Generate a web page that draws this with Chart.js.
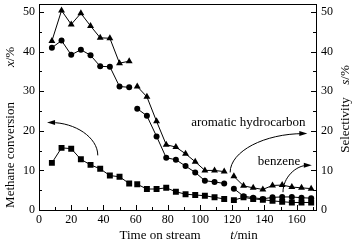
<!DOCTYPE html>
<html><head><meta charset="utf-8">
<script src="https://cdn.jsdelivr.net/npm/chart.js@4"></script>
<style>html,body{margin:0;padding:0;background:#fff}</style>
</head><body>
<canvas id="c" width="356" height="243" style="display:block;width:356px;height:243px"></canvas>
<script>
const times = [8,14,20,26,32,38,44,50,56, 61,67,73,79,85,91,97,103,109,115, 121,127,133,139,145,151,157,163,169];
const methaneConversion = [11.9,15.7,15.5,12.8,11.4,10.4,8.7,8.4,6.7, 6.5,5.3,5.3,5.6,4.6,4.0,3.8,3.6,3.2,2.8, 2.5,3.2,2.8,2.6,2.3,2.1,1.9,1.9,1.9];
const aromaticSelectivity = [42.7,50.4,46.9,49.7,46.5,43.5,43.4,37.1,37.6, 31.2,28.6,22.4,16.5,15.9,14.2,12.2,10.0,10.0,9.7, 8.5,6.1,5.6,5.2,6.2,6.3,5.8,5.6,5.4];
const benzeneSelectivity = [41.0,42.8,39.2,40.5,39.1,36.3,36.2,31.2,31.0, 25.6,23.8,18.6,13.2,12.7,11.1,9.5,7.4,7.1,6.7, 5.4,3.5,3.1,2.8,3.2,3.3,3.3,3.1,3.0];
const segmentBreaks = [58, 118];
const xTicks = [0,20,40,60,80,100,120,140,160];
const yTicks = [0,10,20,30,40,50];

const FONT = "'Liberation Serif', 'DejaVu Serif', serif";
const pts = arr => times.map((t,i)=>({x:t, y:arr[i]}));
const seg = {
  borderColor: c => segmentBreaks.some(b => c.p0.parsed.x < b && c.p1.parsed.x > b) ? 'rgba(0,0,0,0)' : '#000'
};
const ds = (label, arr, style, r) => ({
  label, data: pts(arr), yAxisID: label==='conv' ? 'y' : 'y2',
  borderColor:'#000', backgroundColor:'#000', borderWidth:1,
  pointStyle: style, pointRadius: r, pointBackgroundColor:'#000', pointBorderColor:'#000', pointBorderWidth:0,
  segment: seg, tension:0
});

const decor = {
  id:'decor',
  afterDraw(chart){
    const {ctx, chartArea:a, scales} = chart;
    const xs = scales.x, ys = scales.y, ys2 = scales.y2;
    ctx.save();
    ctx.strokeStyle='#000'; ctx.lineWidth=1;
    ctx.strokeRect(Math.round(a.left)+0.5, Math.round(a.top)+0.5, Math.round(a.right-a.left), Math.round(a.bottom-a.top));
    // inner ticks
    ctx.beginPath();
    for (let v=0; v<=170; v+=10){
      const px = Math.round(xs.getPixelForValue(v))+0.5;
      const len = v%20===0 ? 5 : 3;
      ctx.moveTo(px, a.bottom); ctx.lineTo(px, a.bottom-len);
    }
    for (let v=0; v<=50; v+=5){
      const py = Math.round(ys.getPixelForValue(v))+0.5;
      const len = v%10===0 ? 5 : 3;
      ctx.moveTo(a.left, py); ctx.lineTo(a.left+len, py);
      ctx.moveTo(a.right, py); ctx.lineTo(a.right-len, py);
    }
    ctx.stroke();
    ctx.fillStyle='#000';
    const N = "12px " + FONT, T = "13px " + FONT, I = "italic 13px " + FONT;
    // tick labels
    ctx.font = N; ctx.textBaseline='middle';
    ctx.textAlign='center';
    xTicks.forEach(v => ctx.fillText(String(v), xs.getPixelForValue(v), a.bottom+10));
    ctx.textAlign='right';
    yTicks.forEach(v => ctx.fillText(String(v), a.left-4, ys.getPixelForValue(v)));
    ctx.textAlign='left';
    yTicks.forEach(v => ctx.fillText(String(v), a.right+5, ys2.getPixelForValue(v)));
    // mixed-font titles
    const drawParts = (parts, x, y, rot) => {
      ctx.save(); ctx.translate(x,y); if (rot) ctx.rotate(-Math.PI/2);
      let total = 0;
      parts.forEach(p => { ctx.font = p[1]; total += ctx.measureText(p[0]).width; });
      let cx = -total/2;
      ctx.textBaseline='middle'; ctx.textAlign='left';
      parts.forEach(p => { ctx.font = p[1]; ctx.fillText(p[0], cx, 0); cx += ctx.measureText(p[0]).width; });
      ctx.restore();
    };
    drawParts([["Methane conversion", T]], 11, 155, true);
    drawParts([["x", I], ["/%", T]], 11, 57, true);
    drawParts([["Selectivity", T]], 346, 125, true);
    drawParts([["s", I], ["/%", T]], 346, 75, true);
    drawParts([["Time on stream", T]], 160, 236, false);
    drawParts([["t", I], ["/min", T]], 244, 236, false);
    // annotations (data coordinates)
    const P = (x,y) => [xs.getPixelForValue(x), ys.getPixelForValue(y)];
    const arrow = (from, to, dir) => {
      const [sx,sy] = P(...from), [tx,ty] = P(...to);
      ctx.beginPath();
      ctx.moveTo(sx,sy);
      ctx.bezierCurveTo(sx, sy-0.55*(sy-ty), tx+0.55*(sx-tx), ty, tx + (dir<0?4:-4), ty);
      ctx.stroke();
      ctx.beginPath();
      ctx.moveTo(tx,ty); ctx.lineTo(tx-dir*8, ty-2.5); ctx.lineTo(tx-dir*8, ty+2.5); ctx.closePath(); ctx.fill();
    };
    arrow([36.5,13.8],[5,22.1],-1);
    arrow([118.7,9.5],[166.6,19.3],1);
    arrow([151.5,4.5],[169.4,11.3],1);
    ctx.font = T; ctx.textAlign='center'; ctx.textBaseline='middle';
    const [ax,ay] = P(130,22.2); ctx.fillText("aromatic hydrocarbon", ax, ay);
    const [bx,by] = P(149,12.2); ctx.fillText("benzene", bx, by);
    ctx.restore();
  }
};

const fixW = w => s => { s.width = w; s.paddingTop = 0; s.paddingBottom = 0; s.paddingLeft = 0; s.paddingRight = 0; };
new Chart(document.getElementById('c'), {
  type:'line',
  data:{ datasets:[
    ds('aromatic', aromaticSelectivity, 'triangle', 4),
    ds('benzene', benzeneSelectivity, 'circle', 3),
    ds('conv', methaneConversion, 'rect', 4.2)
  ]},
  options:{
    responsive:false, animation:false, devicePixelRatio:1,
    layout:{padding:{top:3,left:0,right:0,bottom:0}},
    plugins:{legend:{display:false}, tooltip:{enabled:false}},
    scales:{
      x:{type:'linear', min:0, max:172,
        afterFit: s => { s.height = 33; s.paddingTop = 0; s.paddingBottom = 0; s.paddingLeft = 0; s.paddingRight = 0; },
        grid:{display:false, drawTicks:false}, border:{display:false},
        ticks:{display:false}},
      y:{type:'linear', position:'left', min:0, max:52,
        afterFit: fixW(39),
        grid:{display:false, drawTicks:false}, border:{display:false},
        ticks:{display:false}},
      y2:{type:'linear', position:'right', min:0, max:52,
        afterFit: fixW(40),
        grid:{display:false, drawTicks:false}, border:{display:false},
        ticks:{display:false}}
    }
  },
  plugins:[decor]
});
</script>
</body></html>
